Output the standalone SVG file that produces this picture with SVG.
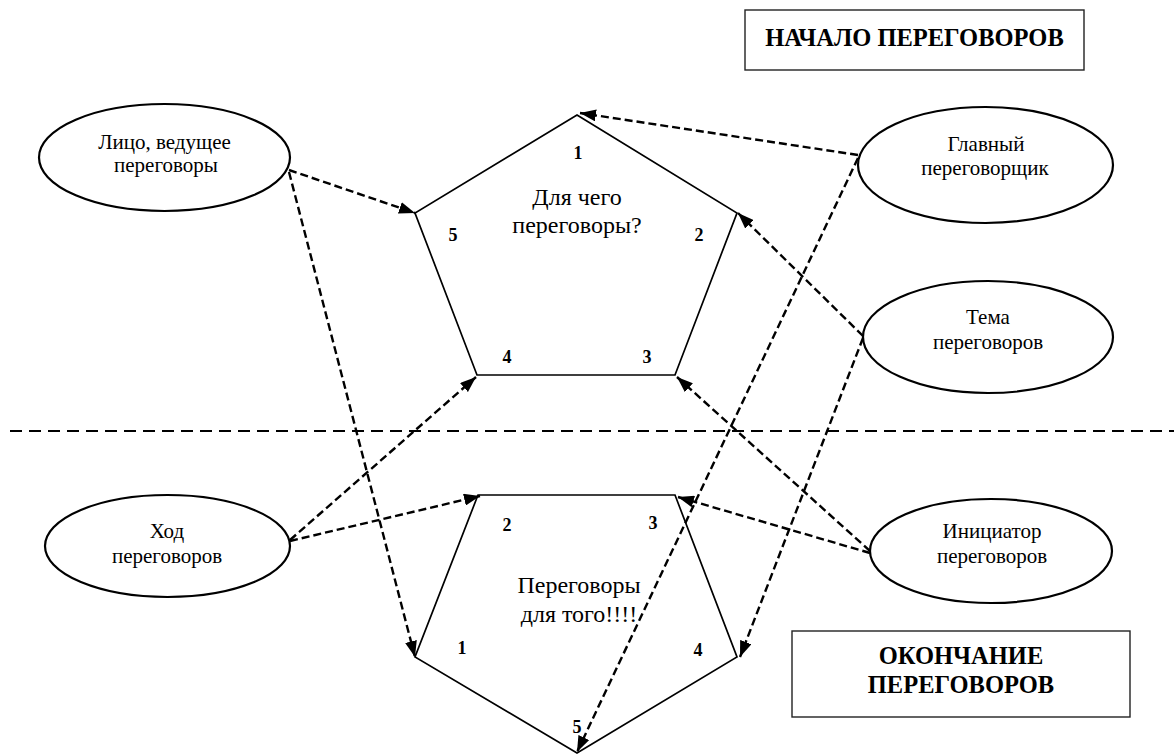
<svg xmlns="http://www.w3.org/2000/svg" width="1174" height="755" viewBox="0 0 1174 755">
  <style>
    .oval { fill: #fff; stroke: #000; stroke-width: 2.2; }
    .penta { fill: none; stroke: #000; stroke-width: 1.7; stroke-linejoin: miter; }
    .box { fill: #fff; stroke: #222; stroke-width: 1.4; }
    .link { fill: none; stroke: #000; stroke-width: 2.4; stroke-dasharray: 8 4; marker-end: url(#tip); }
    .divider { fill: none; stroke: #000; stroke-width: 2.2; stroke-dasharray: 12 7; }
    text { font-family: "Liberation Serif", "DejaVu Serif", serif; fill: #000; text-anchor: middle; }
    .lbl { font-size: 21px; }
    .center { font-size: 24px; }
    .num { font-size: 18px; font-weight: bold; }
    .head { font-size: 24.5px; font-weight: bold; }
  </style>
  <defs>
    <marker id="tip" viewBox="0 0 16 12" refX="16" refY="6" markerWidth="16" markerHeight="12" markerUnits="userSpaceOnUse" orient="auto">
      <path d="M0,0 L16,6 L0,12 z" fill="#000"/>
    </marker>
  </defs>

  <rect width="1174" height="755" fill="#fff"/>

  <!-- section divider -->
  <line class="divider" x1="10" y1="431" x2="1174" y2="431"/>

  <!-- heading boxes -->
  <g id="start-box">
    <rect class="box" x="745" y="10" width="339" height="60"/>
    <text class="head" x="914.5" y="46">НАЧАЛО ПЕРЕГОВОРОВ</text>
  </g>
  <g id="end-box">
    <rect class="box" x="792" y="631" width="338" height="86"/>
    <text class="head" x="961" y="664">ОКОНЧАНИЕ</text>
    <text class="head" x="961" y="693">ПЕРЕГОВОРОВ</text>
  </g>

  <!-- upper pentagon -->
  <g id="purpose">
    <polygon class="penta" points="577,115 737,213 675,375 477,375 415,213"/>
    <text class="center" x="577" y="205">Для чего</text>
    <text class="center" x="577" y="233">переговоры?</text>
    <text class="num" x="578" y="159">1</text>
    <text class="num" x="699" y="241">2</text>
    <text class="num" x="647" y="363">3</text>
    <text class="num" x="507" y="363">4</text>
    <text class="num" x="453" y="241">5</text>
  </g>

  <!-- lower pentagon -->
  <g id="outcome">
    <polygon class="penta" points="478,495 675,495 737,657 577,753 415,657"/>
    <text class="center" x="579" y="593">Переговоры</text>
    <text class="center" x="579" y="622">для того!!!!</text>
    <text class="num" x="462" y="654">1</text>
    <text class="num" x="507" y="531">2</text>
    <text class="num" x="653" y="529">3</text>
    <text class="num" x="698" y="656">4</text>
    <text class="num" x="577" y="733">5</text>
  </g>

  <!-- participants -->
  <g id="leader">
    <ellipse class="oval" cx="164.5" cy="157.5" rx="125.5" ry="53.5"/>
    <text class="lbl" x="164.5" y="149">Лицо, ведущее</text>
    <text class="lbl" x="166" y="172">переговоры</text>
  </g>
  <g id="chief">
    <ellipse class="oval" cx="985.5" cy="165" rx="127.5" ry="58"/>
    <text class="lbl" x="986" y="151">Главный</text>
    <text class="lbl" x="985" y="175">переговорщик</text>
  </g>
  <g id="topic">
    <ellipse class="oval" cx="988" cy="337" rx="125" ry="56"/>
    <text class="lbl" x="988" y="324">Тема</text>
    <text class="lbl" x="988" y="349">переговоров</text>
  </g>
  <g id="course">
    <ellipse class="oval" cx="167.5" cy="546" rx="122.5" ry="51"/>
    <text class="lbl" x="167" y="538">Ход</text>
    <text class="lbl" x="167" y="563">переговоров</text>
  </g>
  <g id="initiator">
    <ellipse class="oval" cx="991" cy="551" rx="121" ry="52"/>
    <text class="lbl" x="992" y="538">Инициатор</text>
    <text class="lbl" x="992" y="563">переговоров</text>
  </g>

  <!-- connectors -->
  <g id="connectors">
    <line class="link" x1="289" y1="170" x2="415" y2="213"/>
    <line class="link" x1="289" y1="172" x2="415" y2="657"/>
    <line class="link" x1="858" y1="155" x2="580" y2="113"/>
    <line class="link" x1="858" y1="158" x2="577" y2="752"/>
    <line class="link" x1="863" y1="336" x2="738" y2="213"/>
    <line class="link" x1="863" y1="338" x2="740" y2="657"/>
    <line class="link" x1="290" y1="540" x2="476" y2="377"/>
    <line class="link" x1="290" y1="541" x2="480" y2="496"/>
    <line class="link" x1="870" y1="551" x2="677" y2="377"/>
    <line class="link" x1="870" y1="553" x2="678" y2="497"/>
  </g>
</svg>
